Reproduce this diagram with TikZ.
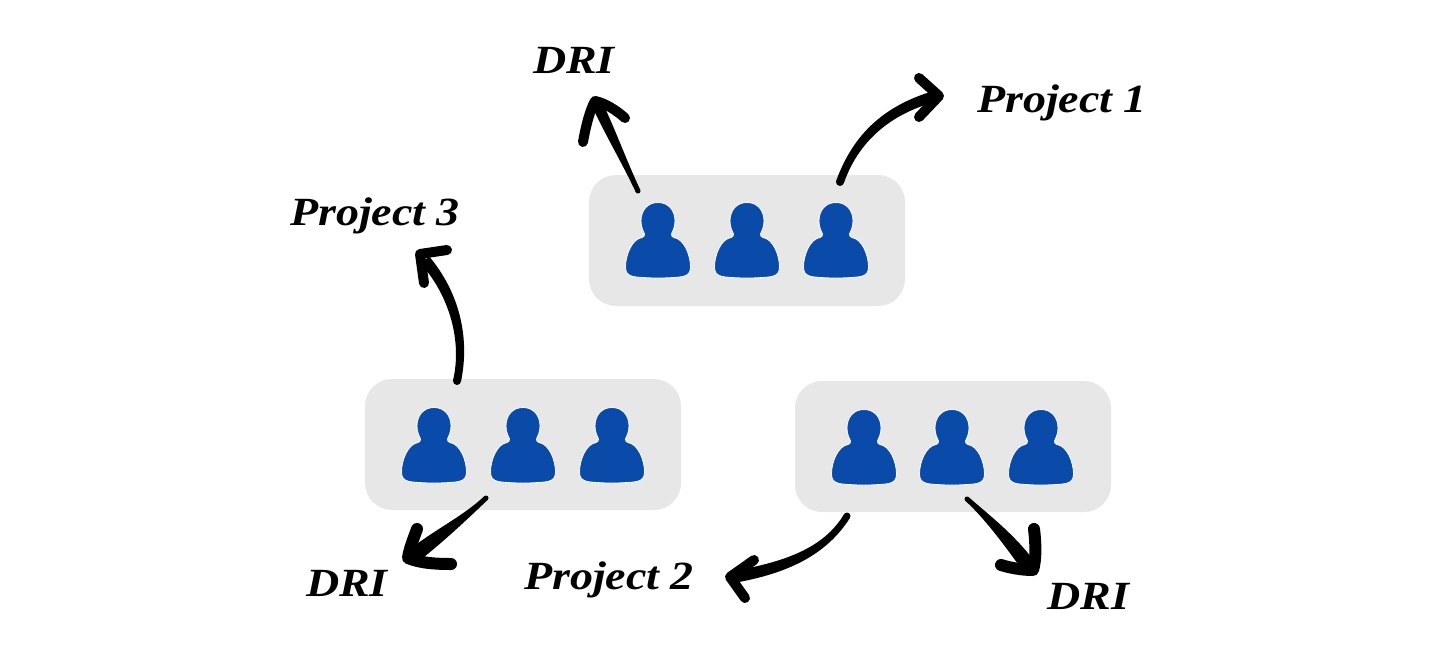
\documentclass[tikz,border=0pt]{standalone}
\usepackage{fontspec}
\setmainfont{Liberation Serif}
\newfontfamily\handfont[FakeStretch=1.15]{Liberation Serif}
\usetikzlibrary{calc}
\definecolor{panelgray}{HTML}{E7E7E7}
\definecolor{personblue}{HTML}{0A4BAA}
\tikzset{
  panel/.style={fill=panelgray,draw=none,rounded corners=27pt,minimum width=316pt,minimum height=131pt,inner sep=0pt},
  lbl/.style={font=\handfont\itshape\bfseries\fontsize{40}{40}\selectfont,inner sep=0pt,text=black},
  barb/.style={draw=black,line width=10pt,line cap=round,line join=round},
  person/.pic={
    \fill[personblue,draw=white,line width=0.8pt] (0,-0.5) .. controls (11,-0.5) and (17,8) .. (17,18)
      .. controls (17,25) and (14.5,28) .. (13.5,31) .. controls (13.5,33) and (14,34) .. (16,34.5)
      .. controls (26,36) and (32.5,52) .. (32.5,64) .. controls (32.5,70) and (30,72) .. (25,73.5)
      .. controls (12,75.5) and (-12,75.5) .. (-25,73.5) .. controls (-30,72) and (-32.5,70) .. (-32.5,64)
      .. controls (-32.5,52) and (-26,36) .. (-16,34.5) .. controls (-14,34) and (-13.5,33) .. (-13.5,31)
      .. controls (-14.5,28) and (-17,25) .. (-17,18) .. controls (-17,8) and (-11,-0.5) .. (0,-0.5) -- cycle;
  }
}
% tapered curve from #1 to #4 via controls #2,#3; half widths #5 (start), #6 (end)
\newcommand\taper[6]{%
  \fill[black] ($(#1)!#5pt!90:(#2)$) .. controls ($(#2)!#5pt!90:(#3)$) and ($(#3)!#6pt!-90:(#2)$) .. ($(#4)!#6pt!-90:(#3)$)
    -- ($(#4)!#6pt!90:(#3)$) .. controls ($(#3)!#6pt!90:(#2)$) and ($(#2)!#5pt!-90:(#3)$) .. ($(#1)!#5pt!-90:(#2)$) -- cycle;
  \fill[black] (#1) circle (#5pt);
}
\begin{document}
\begin{tikzpicture}[x=1pt,y=-1pt]
\useasboundingbox (0,0) rectangle (1456,664);
\node[panel] (top) at (747,240.5) {};
\node[panel] (left) at (523,444.5) {};
\node[panel] (right) at (953,446.5) {};
\foreach \x in {658,747,836} \pic at (\x,203) {person};
\foreach \x in {434,523,612} \pic at (\x,408) {person};
\foreach \x in {864,952,1041} \pic at (\x,410) {person};
\node[lbl] (dria) at (574,60) {DRI};
\node[lbl] (p1) at (1062,103) {Project 1};
\node[lbl] (p3) at (375,216) {Project 3};
\node[lbl] (drib) at (347,583) {DRI};
\node[lbl] (p2) at (609,580) {Project 2};
\node[lbl] (dric) at (1088,596) {DRI};
% top -> DRI
\coordinate (a0) at (638,191); \coordinate (a1) at (624.7,162.7); \coordinate (a2) at (611.3,134.3); \coordinate (a3) at (598,106);
\taper{a0}{a1}{a2}{a3}{2.5}{5.5}
\draw[barb] (583,142) .. controls (586,125) and (590,110) .. (595,101) .. controls (605,103) and (616,110) .. (625,118);
% top -> project 1
\coordinate (b0) at (840,182); \coordinate (b1) at (855,140); \coordinate (b2) at (885,110); \coordinate (b3) at (936,96);
\taper{b0}{b1}{b2}{b3}{4}{5.5}
\draw[barb] (919,78) -- (939,96) -- (919,117);
% left -> project 3
\coordinate (c0) at (457,381); \coordinate (c1) at (466,340); \coordinate (c2) at (455,295); \coordinate (c3) at (425,260);
\taper{c0}{c1}{c2}{c3}{4}{5.5}
\draw[barb] (447,250) -- (420,254) -- (424,283);
% left -> DRI
\coordinate (d0) at (486,498); \coordinate (d1) at (465,518); \coordinate (d2) at (440,535); \coordinate (d3) at (412,557);
\taper{d0}{d1}{d2}{d3}{2.5}{7.5}
\draw[barb,line width=12pt] (417,529) .. controls (413,540) and (409,550) .. (408,558) .. controls (420,563) and (435,564) .. (451,564);
% right -> project 2
\coordinate (e0) at (847,516); \coordinate (e1) at (825,552); \coordinate (e2) at (785,568); \coordinate (e3) at (733,577);
\taper{e0}{e1}{e2}{e3}{3.5}{6}
\draw[barb] (754,560) -- (730,577) -- (745,598);
% right -> DRI
\coordinate (f0) at (967,499); \coordinate (f1) at (985,515); \coordinate (f2) at (1010,540); \coordinate (f3) at (1030,568);
\taper{f0}{f1}{f2}{f3}{2.5}{7.5}
\draw[barb,line width=12pt] (1034,529) .. controls (1036,545) and (1036,560) .. (1033,570) .. controls (1022,570) and (1011,568) .. (1001,565);
\end{tikzpicture}
\end{document}
